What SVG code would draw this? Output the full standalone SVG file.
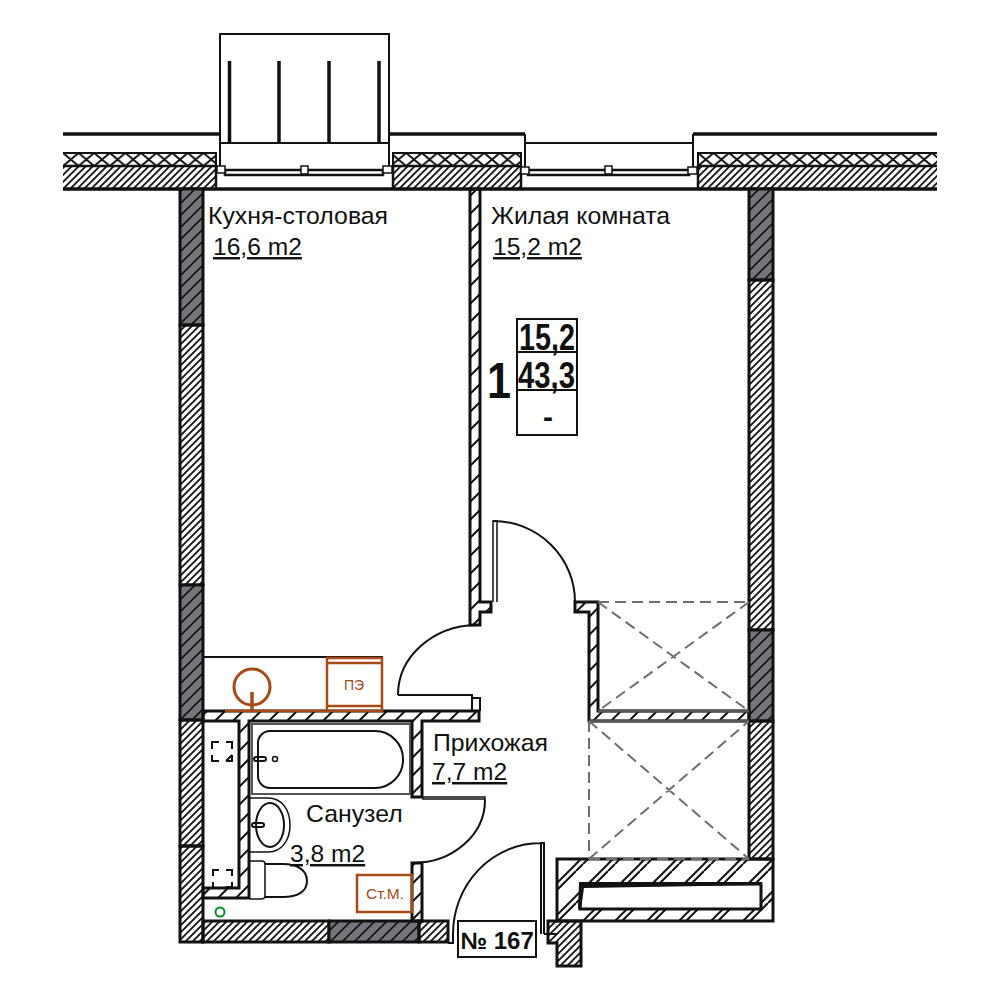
<svg xmlns="http://www.w3.org/2000/svg" width="1000" height="1000" viewBox="0 0 1000 1000">
<style>
text{font-family:"Liberation Sans",Arial,sans-serif;fill:#111}
.lbl{font-size:24.800px}
.area{font-size:24.600px;text-decoration:underline}
.wall{fill:url(#h);stroke:#111;stroke-width:3}
.conc{fill:url(#g);stroke:#111;stroke-width:3}
.part{fill:url(#s);stroke:#111;stroke-width:3}
.ln{fill:none;stroke:#111;stroke-width:1.500}
.th{fill:none;stroke:#111;stroke-width:3.500}
.or{fill:none;stroke:#a84a16;stroke-width:2.500}
.dash{fill:none;stroke:#6d6d75;stroke-width:2;stroke-dasharray:11 6}
.tb{fill:none;stroke:#111;stroke-width:2}
</style>
<defs>
<pattern id="h" patternUnits="userSpaceOnUse" width="7" height="7"><path d="M0 7L7 0M-1 1L1 -1M6 8L8 6" stroke="#111" stroke-width="1.800"/></pattern>
<pattern id="g" patternUnits="userSpaceOnUse" width="12" height="12"><rect width="12" height="12" fill="#75757b"/><path d="M0 12L12 0M-2 2L2 -2M10 14L14 10" stroke="#111" stroke-width="1.600"/></pattern>
<pattern id="s" patternUnits="userSpaceOnUse" width="18" height="18"><path d="M0 18L18 0M-2 2L2 -2M16 20L20 16" stroke="#111" stroke-width="2"/></pattern>
<pattern id="b" patternUnits="userSpaceOnUse" width="32" height="32"><path d="M0 32L32 0M-2 2L2 -2M30 34L34 30M7 32L32 7M0 7L7 0" stroke="#111" stroke-width="2"/></pattern>
<pattern id="x" patternUnits="userSpaceOnUse" x="63" y="153" width="15.600" height="13"><path d="M0 0L15.600 13M15.600 0L0 13" stroke="#111" stroke-width="2"/></pattern>
<pattern id="xb" patternUnits="userSpaceOnUse" x="698" y="153" width="15.600" height="13"><path d="M0 0L15.600 13M15.600 0L0 13" stroke="#111" stroke-width="2"/></pattern>
</defs>

<g id="balcony">
<path class="ln" d="M220 170V34H389V170M220 143H389M525 143H693M525 134V170M693 134V170" style="stroke-width:2"/>
<path d="M229.500 61V143M279 61V143M329 61V143M379 61V143" fill="none" stroke="#111" stroke-width="3.500"/>
<path class="th" d="M63 134H220M389 134H525M693 134H937"/>
</g>

<g id="facade">
<path d="M63 153H216V166H63Z" fill="url(#x)"/><path d="M393 153H521V166H393Z" fill="url(#x)"/><path d="M698 153H937V166H698Z" fill="url(#xb)"/>
<path class="ln" d="M63 153H216V166M393 166V153H521V166M937 153H698V166" style="stroke-width:2"/>
<path d="M63 166H216V189H63Z" fill="url(#h)"/><path d="M393 166H521V189H393Z" fill="url(#h)"/><path d="M698 166H937V189H698Z" fill="url(#h)"/>
<path d="M63 166H216V189M393 189V166H521V189M937 166H698V189" fill="none" stroke="#111" stroke-width="2.500"/>
<path class="th" d="M63 189H937"/>
</g>

<g id="windows" fill="#fff" stroke="#111" stroke-width="1.500">
<rect x="225" y="170" width="158" height="5" stroke-width="2.500"/><rect x="217" y="166" width="8" height="7"/><rect x="383" y="166" width="9" height="7"/><rect x="301" y="166" width="7" height="8"/>
<rect x="528" y="170" width="161" height="5" stroke-width="2.500"/><rect x="521" y="167" width="8" height="7"/><rect x="688" y="167" width="9" height="7"/><rect x="605" y="166" width="7" height="8"/>
</g>

<g id="walls">
<rect class="conc" x="180" y="189" width="23" height="136"/>
<rect class="wall" x="180" y="325" width="23" height="260"/>
<rect class="conc" x="180" y="585" width="23" height="135"/>
<rect class="wall" x="180" y="720" width="23" height="126"/>
<rect class="wall" x="180" y="846" width="23" height="96"/>
<rect class="wall" x="203" y="921" width="126" height="21"/>
<rect class="conc" x="329" y="921" width="90" height="21"/>
<rect class="wall" x="419" y="921" width="29" height="21"/>
<rect class="conc" x="749" y="189" width="24" height="91"/>
<rect class="wall" x="749" y="280" width="24" height="350"/>
<rect class="conc" x="749" y="630" width="24" height="91"/>
<rect class="wall" x="749" y="721" width="24" height="138"/>
<path class="part" d="M470 189H480V602H491V612H480V625H470Z"/>
<path class="part" d="M589 612H575V602H598V711H749V721H589Z"/>
<path d="M598 711H749M589 721H749" fill="none" stroke="#55555c" stroke-width="3"/>
<path class="part" d="M203 711H479V721H422V797H412V721H249V898H203V888H239V721H203Z"/>
<path class="part" d="M412 863H422V921H412Z"/>
<path class="wall" d="M548 921H581V966H557V943H548Z"/>
<path d="M557 859H773V921H557Z" fill="url(#b)" stroke="#111" stroke-width="3"/>
<path d="M581 884H761V909H580Z" fill="#fff" stroke="#111" stroke-width="3"/>
<path d="M579 882H762V885L584 888L581 909H578Z" fill="#111"/>
</g>

<g id="doors">
<path class="ln" d="M493 602V521H497V602" style="stroke-width:1.500"/>
<path class="ln" d="M493 521A82 81 0 0 1 575 602" style="stroke-width:2"/>
<path class="ln" d="M398 695H472V711M472 698H480V711" style="stroke-width:2"/>
<path class="ln" d="M398 695A80 70 0 0 1 476 625" style="stroke-width:2"/>
<path class="ln" d="M422 799H485M422 797H485V801" style="stroke-width:1.500"/>
<path class="ln" d="M485 800A72 63 0 0 1 412 863" style="stroke-width:2"/>
<path class="ln" d="M541 934V843H544V934M544 934H557M541 843A88 91 0 0 0 453 934V943H448" style="stroke-width:2"/>
</g>

<g id="openings">
<path class="dash" d="M598 602H749M598 602L749 711M749 602L598 711"/>
<path class="dash" d="M589 721V859M589 859L749 721M589 721L749 859M589 859H749"/>
</g>

<g id="kitchen">
<path d="M203 657H382V711" fill="none" stroke="#111" stroke-width="2"/>
<path class="or" d="M225 711H382V658H327V711M327 663H382M327 706H382"/>
<circle class="or" cx="252" cy="687" r="18" style="stroke-width:3"/>
<path class="or" d="M252 692V711" style="stroke-width:3.500"/>
<text x="354" y="690" font-size="14" text-anchor="middle" style="fill:#a84a16">ПЭ</text>
</g>

<g id="bathroom">
<rect x="252" y="724" width="158" height="70" fill="#fff" stroke="#555" stroke-width="2"/>
<path class="ln" d="M270 731H375A28 28 0 0 1 403 759V760A28 28 0 0 1 375 788H270A12 12 0 0 1 258 776V743A12 12 0 0 1 270 731Z" style="stroke-width:2"/>
<rect x="254" y="757" width="12" height="4" rx="2" class="ln" style="stroke-width:2"/><circle class="ln" cx="275" cy="759" r="2.500" style="stroke-width:1.500"/>
<path class="ln" d="M249 798H268C282 798 290 810 290 825C290 840 282 852 268 852H249" style="stroke-width:1.500"/>
<ellipse class="ln" cx="270" cy="825" rx="14" ry="22" style="stroke-width:2"/>
<rect x="252" y="823" width="12" height="4" rx="2" class="ln" style="stroke-width:2"/>
<path class="ln" d="M265 864H283C297 864 307 870 307 881C307 892 297 897 283 897H265" style="stroke-width:2"/>
<path class="ln" d="M250 861H262Q265 861 265 864V896Q265 899 261 899H250" style="stroke-width:1.500"/>
<path d="M219 742H212V749M226 742H232V749M212 755V761H219M226 761H232V755M232 755L226 761" fill="none" stroke="#111" stroke-width="2"/>
<path d="M219 870H213V876M226 870H232V876M213 882V887M226 887H232V882" fill="none" stroke="#111" stroke-width="2"/>
<circle cx="220" cy="912" r="4.500" fill="none" stroke="#0a8a1f" stroke-width="2"/>
<rect class="or" x="357" y="875" width="55" height="37"/>
<text x="385" y="899" font-size="15.500" text-anchor="middle" style="fill:#a84a16">Ст.М.</text>
</g>

<g id="labels">
<text class="lbl" x="208" y="224">Кухня-столовая</text>
<text class="area" x="213" y="255">16,6 m2</text>
<text class="lbl" x="491" y="224">Жилая комната</text>
<text class="area" x="493" y="255">15,2 m2</text>
<text class="lbl" x="433" y="751">Прихожая</text>
<text class="area" x="432" y="780">7,7 m2</text>
<text class="lbl" x="306" y="822">Санузел</text>
<text class="area" x="290" y="862">3,8 m2</text>
</g>

<g id="table">
<rect class="tb" x="517" y="319" width="60" height="116"/>
<path class="tb" d="M517 352H577M517 390H577"/>
<text x="519" y="350" font-size="36" font-weight="bold" textLength="56" lengthAdjust="spacingAndGlyphs">15,2</text>
<text x="518" y="388" font-size="36" font-weight="bold" textLength="57" lengthAdjust="spacingAndGlyphs">43,3</text>
<text x="548" y="427" font-size="30" font-weight="bold" text-anchor="middle">-</text>
<text x="487" y="398" font-size="50" font-weight="bold" textLength="24" lengthAdjust="spacingAndGlyphs">1</text>
</g>

<g id="number">
<rect x="458" y="921" width="78" height="36" fill="#fff" stroke="#111" stroke-width="2"/>
<text x="497" y="949" font-size="24" font-weight="bold" text-anchor="middle">№ 167</text>
</g>
</svg>
